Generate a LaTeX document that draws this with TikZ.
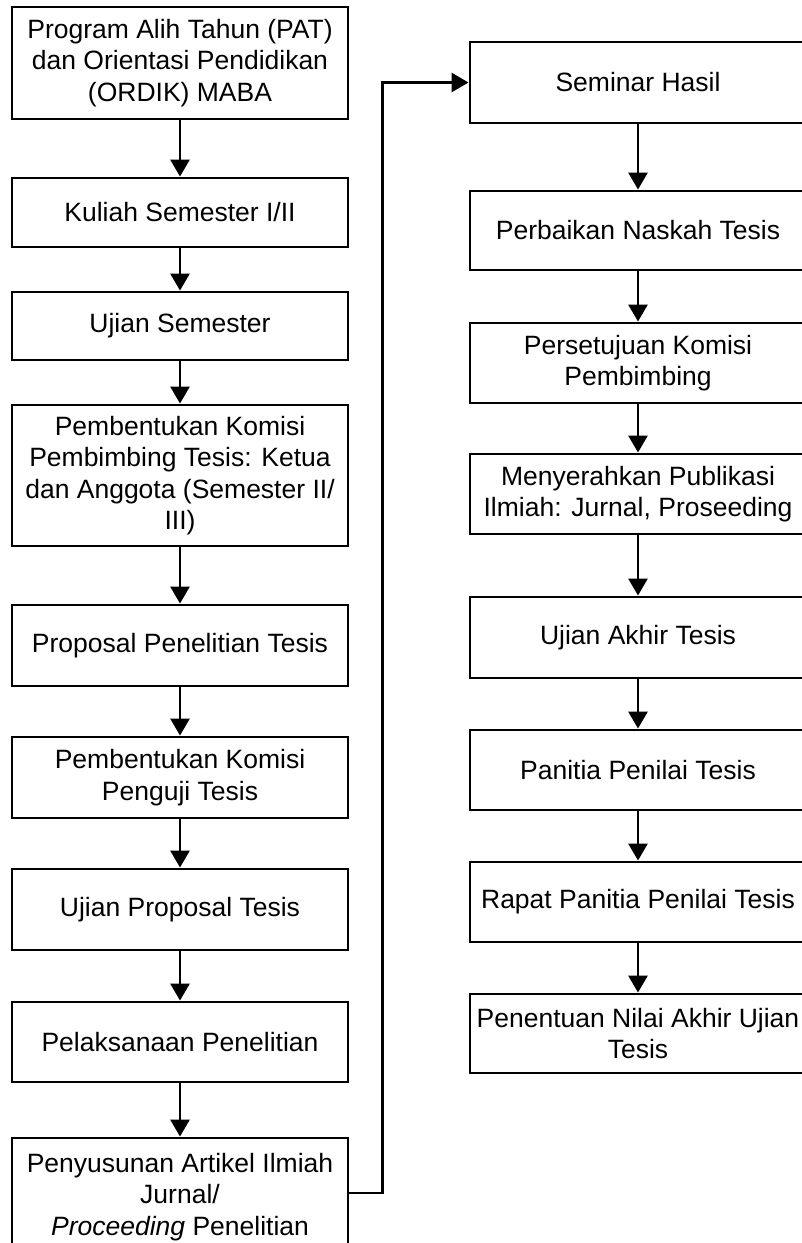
\documentclass[tikz,border=0pt]{standalone}
\usepackage{fontspec}
\setmainfont{Liberation Sans}
\usepackage{tikz}
\usetikzlibrary{arrows.meta,positioning}
\tikzstyle{arrow} = [line width=2.8pt,->,>={Triangle[length=17pt,width=19pt]},color=black]
\tikzstyle{stage} = [rectangle, minimum width=336pt, text centered, align=center, draw=black, line width=2.9pt, inner sep=2pt, font=\fontsize{26.5pt}{31.5pt}\selectfont]

\begin{document}
\begin{tikzpicture}[x=1pt,y=-1pt]
\useasboundingbox (0,0) rectangle (802,1243);
% left column
\node[stage, minimum height=112pt] (b1) at (180,63) {Program Alih Tahun (PAT)\\dan Orientasi Pendidikan\\(ORDIK) MABA};
\node[stage, minimum height=69pt] (b2) at (180,212.5) {Kuliah Semester I/II};
\node[stage, minimum height=68pt] (b3) at (180,326) {Ujian Semester};
\node[stage, minimum height=141pt] (b4) at (180,475.5) {Pembentukan Komisi\\Pembimbing Tesis: Ketua\\dan Anggota (Semester II/\\III)};
\node[stage, minimum height=81pt] (b5) at (180,645.5) {Proposal Penelitian Tesis};
\node[stage, minimum height=81pt] (b6) at (180,777.5) {Pembentukan Komisi\\Penguji Tesis};
\node[stage, minimum height=81pt] (b7) at (180,909.5) {Ujian Proposal Tesis};
\node[stage, minimum height=80pt] (b8) at (180,1042) {Pelaksanaan Penelitian};
\node[stage, minimum height=118pt] (b9) at (180,1197) {Penyusunan Artikel Ilmiah\\Jurnal/\\\textit{Proceeding} Penelitian};

% right column
\node[stage, minimum height=81pt] (s1) at (638,82.5) {Seminar Hasil};
\node[stage, minimum height=79pt] (s2) at (638,230.5) {Perbaikan Naskah Tesis};
\node[stage, minimum height=80pt] (s3) at (638,363) {Persetujuan Komisi\\Pembimbing};
\node[stage, minimum height=80pt] (s4) at (638,494) {Menyerahkan Publikasi\\Ilmiah: Jurnal, Proseeding};
\node[stage, minimum height=81pt] (s5) at (638,637.5) {Ujian Akhir Tesis};
\node[stage, minimum height=80pt] (s6) at (638,770) {Panitia Penilai Tesis};
\node[stage, minimum height=80pt] (s7) at (638,902) {Rapat Panitia Penilai Tesis};
\node[stage, minimum height=79pt] (s8) at (638,1033.5) {Penentuan Nilai Akhir Ujian\\Tesis};

\foreach \a/\b in {b1/b2,b2/b3,b3/b4,b4/b5,b5/b6,b6/b7,b7/b8,b8/b9,s1/s2,s2/s3,s3/s4,s4/s5,s5/s6,s6/s7,s7/s8}
  \draw[arrow] (\a) -- (\b);

% link to the second column
\draw[arrow] (b9.east) ++(0,-4) -- ++(33,0) |- (s1.west);
\end{tikzpicture}
\end{document}
